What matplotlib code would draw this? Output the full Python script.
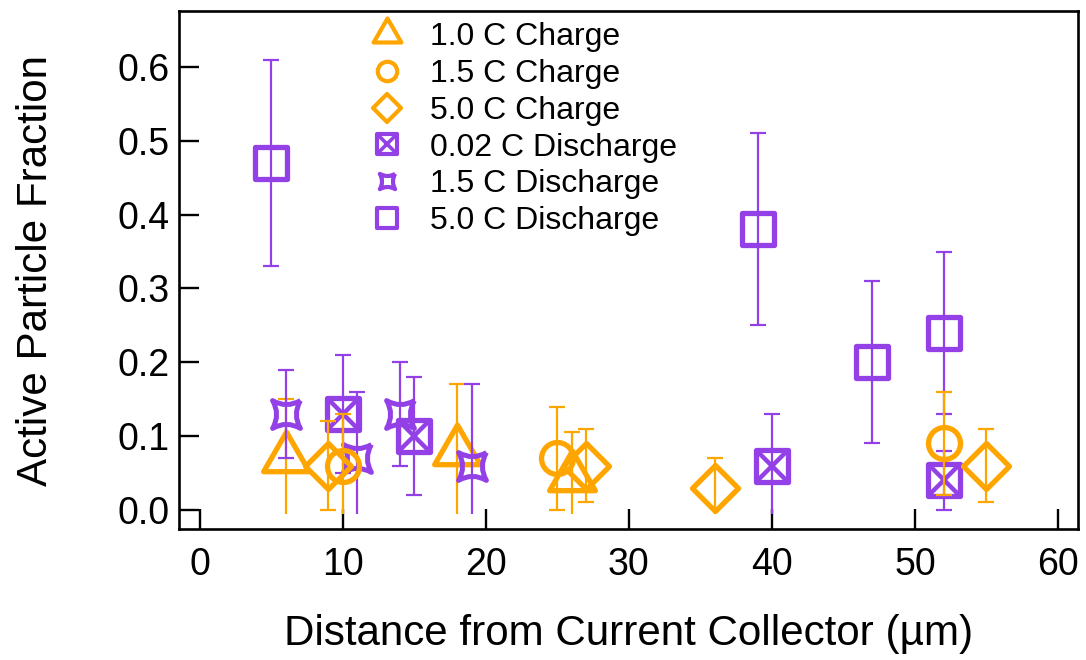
import matplotlib
matplotlib.use("Agg")
import matplotlib.pyplot as plt
import numpy as np
from matplotlib.path import Path
from matplotlib.patches import Rectangle
from matplotlib.lines import Line2D
from matplotlib.markers import MarkerStyle
from matplotlib.legend_handler import HandlerTuple

plt.rcParams['font.family'] = ['Liberation Sans', 'DejaVu Sans']

ORANGE = '#FFA500'
PURPLE = '#9340E6'

# 1.0 C charge
x_c10 = [6, 18, 26]
y_c10 = [0.07, 0.08, 0.045]
e_c10 = [0.08, 0.09, 0.06]

# 1.5 C charge
x_c15 = [10, 25, 52]
y_c15 = [0.06, 0.07, 0.09]
e_c15 = [0.07, 0.07, 0.07]

# 5.0 C charge
x_c50 = [9, 27, 36, 55]
y_c50 = [0.06, 0.06, 0.03, 0.06]
e_c50 = [0.06, 0.05, 0.04, 0.05]

# 0.02 C discharge
x_d002 = [10, 15, 40, 52]
y_d002 = [0.13, 0.10, 0.06, 0.04]
e_d002 = [0.08, 0.08, 0.07, 0.04]

# 1.5 C discharge
x_d15 = [6, 11, 14, 19]
y_d15 = [0.13, 0.07, 0.13, 0.06]
e_d15 = [0.06, 0.09, 0.07, 0.11]

# 5.0 C discharge
x_d50 = [5, 39, 47, 52]
y_d50 = [0.47, 0.38, 0.20, 0.24]
e_d50 = [0.14, 0.13, 0.11, 0.11]

labels = ['1.0 C Charge', '1.5 C Charge', '5.0 C Charge',
          '0.02 C Discharge', '1.5 C Discharge', '5.0 C Discharge']

# triangle with its centroid on the data point
h = np.sqrt(3) / 2
tri_path = Path([(0, 2 * h / 3), (-0.5, -h / 3), (0.5, -h / 3), (0, 2 * h / 3)],
                [Path.MOVETO, Path.LINETO, Path.LINETO, Path.CLOSEPOLY])

# four-pointed star with concave sides
k = 0.42
star_path = Path([(1, 1), (0, k), (-1, 1), (-k, 0), (-1, -1), (0, -k), (1, -1), (k, 0), (1, 1)],
                 [Path.MOVETO, Path.CURVE3, Path.CURVE3, Path.CURVE3, Path.CURVE3,
                  Path.CURVE3, Path.CURVE3, Path.CURVE3, Path.CURVE3])


def mk(m):
    return MarkerStyle(m, joinstyle='round')


fig = plt.figure(figsize=(10.86, 6.6), dpi=100)
ax = fig.add_axes([179 / 1086, 1 - 529 / 660, 899 / 1086, 518 / 660])

# error bars stop just below zero
clip = Rectangle((-10, -0.0055), 100, 10, transform=ax.transData)

MEW = 3.8
MS = 23


def draw(x, y, e, color, marker, ms, mew=MEW, z=2):
    cont = ax.errorbar(x, y, yerr=e, fmt='none', ecolor=color, elinewidth=1.6,
                       capsize=5.8, capthick=1.6, zorder=z)
    for art in list(cont.lines[1]) + list(cont.lines[2]):
        art.set_clip_path(clip)
    ax.plot(x, y, linestyle='none', marker=mk(marker), ms=ms, mew=mew,
            mfc='none', mec=color, zorder=z + 0.5)


draw(x_d002, y_d002, e_d002, PURPLE, 's', MS, z=2)
ax.plot(x_d002, y_d002, linestyle='none', marker='x', ms=MS * 0.95, mew=3.2,
        mec=PURPLE, zorder=2.6)
draw(x_d50, y_d50, e_d50, PURPLE, 's', MS, z=2)
draw(x_c10, y_c10, e_c10, ORANGE, tri_path, 38, z=3)
draw(x_d15, y_d15, e_d15, PURPLE, star_path, 20, mew=3.6, z=4)
draw(x_c15, y_c15, e_c15, ORANGE, 'o', MS, z=5)
draw(x_c50, y_c50, e_c50, ORANGE, 'D', MS, z=5)

ax.set_xlim(-1.45, 61.4)
ax.set_ylim(-0.026, 0.676)
ax.set_xticks(np.arange(0, 61, 10))
ax.set_yticks(np.arange(0, 0.61, 0.1))
ax.set_yticklabels([f'{v:.1f}' for v in np.arange(0, 0.61, 0.1)])
ax.tick_params(direction='in', length=14.4, width=1.7, labelsize=27)
ax.tick_params(axis='y', pad=7)
ax.tick_params(axis='x', pad=13)
for sp in ax.spines.values():
    sp.set_linewidth(1.9)

ax.set_xlabel('Distance from Current Collector (µm)', fontsize=30.3)
ax.set_ylabel('Active Particle Fraction', fontsize=30.3)
ax.xaxis.set_label_coords(0.5, -0.165)
ax.yaxis.set_label_coords(-0.137, 0.5)

# legend shows markers only
lk = dict(linestyle='none', mfc='none', mew=3.0)
sq_x = (Line2D([], [], marker=mk('s'), ms=14, mec=PURPLE, **lk),
        Line2D([], [], marker='x', ms=13, mec=PURPLE, linestyle='none', mew=2.6))
handles = [
    Line2D([], [], marker=mk(tri_path), ms=23, mec=ORANGE, **lk),
    Line2D([], [], marker=mk('o'), ms=14, mec=ORANGE, **lk),
    Line2D([], [], marker=mk('D'), ms=14, mec=ORANGE, **lk),
    sq_x,
    Line2D([], [], marker=mk(star_path), ms=11, mec=PURPLE, **lk),
    Line2D([], [], marker=mk('s'), ms=14, mec=PURPLE, **lk),
]
fig.legend(handles, labels, loc='upper left', bbox_to_anchor=(371 / 1086, 1 - 22 / 660),
           frameon=False, fontsize=23, handlelength=1.0, handletextpad=0.85,
           labelspacing=0.215, borderpad=0, borderaxespad=0,
           handler_map={tuple: HandlerTuple(ndivide=1)})

fig.savefig('out.png', dpi=100)
